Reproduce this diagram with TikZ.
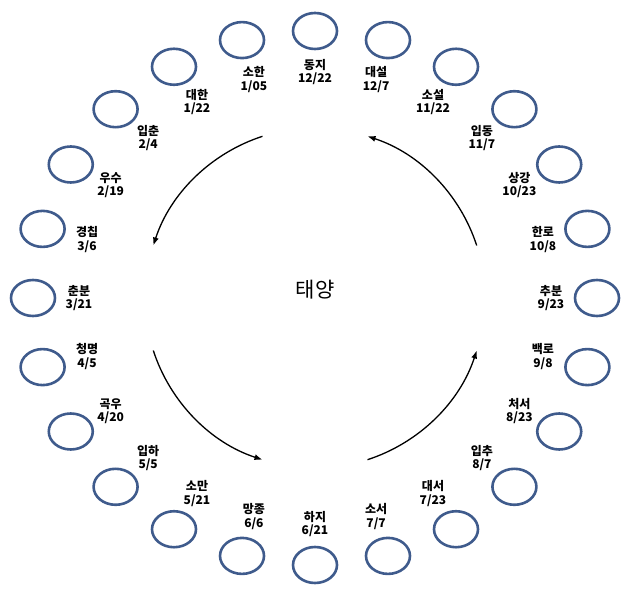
\documentclass[tikz,border=0pt]{standalone}
\usepackage{fontspec}
\setmainfont{Noto Sans CJK KR}
\usetikzlibrary{shapes.geometric,arrows.meta,calc}
\definecolor{eb}{HTML}{3F5B8C}
\begin{document}
\begin{tikzpicture}[x=1pt,y=1pt,
  orb/.style={draw=eb,line width=2.6pt,ellipse,minimum width=44pt,minimum height=36pt,inner sep=0pt},
  lab/.style={font=\fontsize{12}{13.5}\selectfont\bfseries,align=center,inner sep=0pt},
  arr/.style={line width=1.3pt,-{Latex[length=8pt,width=6pt]}}]
\useasboundingbox (0,0) rectangle (628,602);
\coordinate (c) at (315,304);
\foreach \a/\t [count=\i] in {90/{동지\\12/22},105/{소한\\1/05},120/{대한\\1/22},135/{입춘\\2/4},150/{우수\\2/19},165/{경칩\\3/6},180/{춘분\\3/21},195/{청명\\4/5},210/{곡우\\4/20},225/{입하\\5/5},240/{소만\\5/21},255/{망종\\6/6},270/{하지\\6/21},285/{소서\\7/7},300/{대서\\7/23},315/{입추\\8/7},330/{처서\\8/23},345/{백로\\9/8},0/{추분\\9/23},15/{한로\\10/8},30/{상강\\10/23},45/{입동\\11/7},60/{소설\\11/22},75/{대설\\12/7}}{
  \node[orb] (o\i) at ($(c)+({282*cos(\a)},{267*sin(\a)})$) {};
  \node[lab] (l\i) at ($(c)+({236*cos(\a)},{226*sin(\a)})$) {\t};
}
\node[font=\fontsize{21}{24}\selectfont] (sun) at ($(c)+(0,8)$) {태양};
\foreach \s/\e [count=\j] in {108/162,198/252,288/342,18/72}{
  \coordinate (p\j) at ($(c)+(\s:170pt)$);
  \draw[arr] (p\j) arc[start angle=\s,end angle=\e,radius=170pt];
}
\end{tikzpicture}
\end{document}
